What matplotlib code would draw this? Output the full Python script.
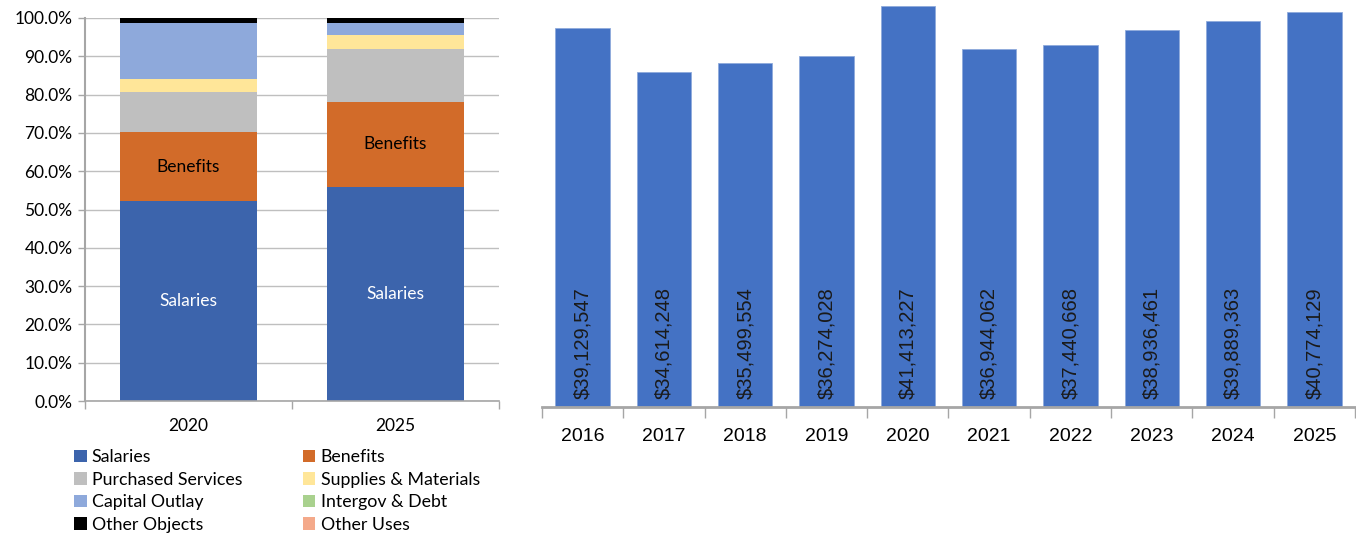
import matplotlib
matplotlib.use("Agg")
import matplotlib.pyplot as plt
import numpy as np
from matplotlib.ticker import FuncFormatter
from matplotlib.patches import Patch

# expenditure mix by object (share of total, %)
mix_years = ["2020", "2025"]
categories = ["Salaries", "Benefits", "Purchased Services", "Supplies & Materials",
              "Capital Outlay", "Intergov & Debt", "Other Objects", "Other Uses"]
share_2020 = [52.2, 18.0, 10.6, 3.3, 14.7, 0.0, 1.2, 0.0]
share_2025 = [56.0, 22.0, 14.0, 3.6, 3.0, 0.0, 1.3, 0.1]
cat_colors = ["#3C64AC", "#D26B29", "#BFBFBF", "#FFE699",
              "#8EA9DB", "#A9D18E", "#000000", "#F4A98A"]

# total expenditures by year
years = ["2016", "2017", "2018", "2019", "2020", "2021", "2022", "2023", "2024", "2025"]
totals = [39129547, 34614248, 35499554, 36274028, 41413227,
          36944062, 37440668, 38936461, 39889363, 40774129]

main_font = ["Lato", "DejaVu Sans"]
narrow_font = ["Liberation Sans", "DejaVu Sans"]
plt.rcParams["font.family"] = main_font

fig = plt.figure(figsize=(13.56, 5.35), dpi=100)

# ---- left: stacked 100% bars ----
ax1 = fig.add_axes([85 / 1356, 134 / 535, 414 / 1356, 383 / 535])
x = np.arange(len(mix_years))
shares = np.array([share_2020, share_2025])
bottoms = np.zeros(len(mix_years))
for i, cat in enumerate(categories):
    ax1.bar(x, shares[:, i], bottom=bottoms, width=0.66, color=cat_colors[i],
            zorder=2, linewidth=0)
    if cat in ("Salaries", "Benefits"):
        for j in range(len(mix_years)):
            ax1.text(x[j], bottoms[j] + shares[j, i] / 2, cat, ha="center", va="center",
                     fontsize=12.5, color="white" if cat == "Salaries" else "black", zorder=3)
    bottoms += shares[:, i]

ax1.set_xlim(-0.5, 1.5)
ax1.set_ylim(0, 100)
ax1.set_yticks(np.arange(0, 101, 10))
ax1.yaxis.set_major_formatter(FuncFormatter(lambda v, p: f"{v:.1f}%"))
ax1.yaxis.grid(True, color="#BFBFBF", linewidth=1, zorder=0)
ax1.set_xticks(x)
ax1.set_xticklabels(mix_years)
ax1.set_xticks([-0.5, 0.5, 1.5], minor=True)
ax1.tick_params(axis="x", which="major", length=0, pad=12, labelsize=12.5)
ax1.tick_params(axis="x", which="minor", length=6, color="#A6A6A6", width=1)
ax1.tick_params(axis="y", length=5, color="#A6A6A6", width=1, labelsize=12.5, pad=4)
for s in ("top", "right"):
    ax1.spines[s].set_visible(False)
ax1.spines["left"].set_color("#A6A6A6")
ax1.spines["left"].set_linewidth(1.5)
ax1.spines["bottom"].set_color("#A6A6A6")
ax1.spines["bottom"].set_linewidth(1.2)

# legend in two columns, filled row by row
handles = [Patch(facecolor=c, edgecolor="none") for c in cat_colors]
order = [0, 2, 4, 6, 1, 3, 5, 7]
fig.legend([handles[k] for k in order], [categories[k] for k in order],
           ncol=2, loc="upper left", bbox_to_anchor=(67 / 1356, 1 - 442 / 535),
           frameon=False, fontsize=12.8, handlelength=0.7, handleheight=0.7,
           handletextpad=0.3, columnspacing=3.4, labelspacing=0.37, borderaxespad=0)

# ---- right: total expenditures ----
ax2 = fig.add_axes([542 / 1356, 128 / 535, 813 / 1356, 407 / 535])
xr = np.arange(len(years))
ax2.bar(xr, totals, width=0.67, color="#4472C4", edgecolor="#8FAADC", linewidth=0.6, zorder=2)
for xi, v in zip(xr, totals):
    ax2.annotate(f"${v:,}", (xi, 0), xytext=(0, 6), textcoords="offset points",
                 rotation=90, ha="center", va="bottom", fontsize=14.5,
                 family=narrow_font, color="#1a1a1a", zorder=3)
ax2.set_xlim(-0.5, len(years) - 0.5)
ax2.set_ylim(0, 42.05e6)
ax2.set_yticks([])
ax2.set_xticks(xr)
ax2.set_xticklabels(years, family=narrow_font, fontsize=14)
ax2.set_xticks(np.arange(-0.5, len(years)), minor=True)
ax2.tick_params(axis="x", which="major", length=0, pad=15)
ax2.tick_params(axis="x", which="minor", length=8, color="#A6A6A6", width=1)
for s in ("top", "right", "left"):
    ax2.spines[s].set_visible(False)
ax2.spines["bottom"].set_color("#A6A6A6")
ax2.spines["bottom"].set_linewidth(2)

fig.savefig("out.png", dpi=100)
